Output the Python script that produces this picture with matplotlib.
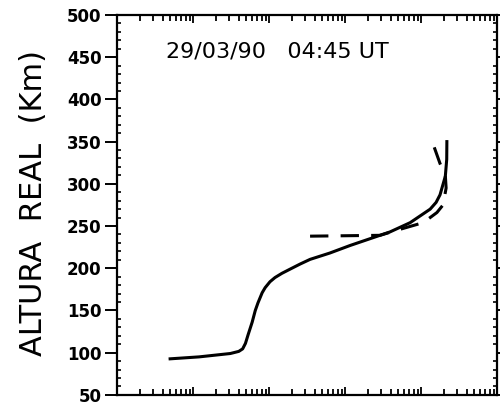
import matplotlib
matplotlib.use('Agg')
import matplotlib.pyplot as plt
from matplotlib.ticker import LogLocator, MultipleLocator, NullFormatter

# Perfil sólido (densidad, altura real en km)
dens_solida = [50, 120, 310, 400, 450, 490, 530, 600, 660, 716, 813, 890,
               1030, 1200, 1480, 1900, 2570, 3470, 6310, 11700, 39000,
               72000, 132000, 158000, 178000, 209000, 218000, 219000]
altura_solida = [92.7, 95, 99, 101.5, 104.5, 111, 121, 136, 150, 159, 171, 177,
                 184, 189, 194, 199, 205, 210.5, 218, 227, 243,
                 254, 270, 278, 287, 309, 329, 350]

# Perfil discontinuo
dens_disc = [3470, 28800, 52500, 97700, 123000, 162000, 195000,
             214000, 209000, 178000, 138000]
altura_disc = [238, 239, 246, 253, 258, 266, 275, 295, 310, 324, 352]

y_ticks = [50, 100, 150, 200, 250, 300, 350, 400, 450, 500]

fig = plt.figure(figsize=(5, 4.05), dpi=100)
ax = fig.add_axes([0.234, 0.025, 0.76, 0.938])

ax.plot(dens_solida, altura_solida, color='black', lw=2.2)
ax.plot(dens_disc, altura_disc, color='black', lw=2.2, dashes=(6, 4))

ax.set_xscale('log')
ax.set_xlim(1e1, 1e6)
ax.set_ylim(50, 500)
ax.set_yticks(y_ticks)
ax.yaxis.set_minor_locator(MultipleLocator(10))
ax.xaxis.set_major_locator(LogLocator(base=10))
ax.xaxis.set_minor_locator(LogLocator(base=10, subs=range(2, 10)))
ax.xaxis.set_major_formatter(NullFormatter())
ax.xaxis.set_minor_formatter(NullFormatter())

for s in ax.spines.values():
    s.set_linewidth(1.6)

ax.tick_params(axis='y', which='major', direction='out', length=9, width=1.4,
               labelsize=12, pad=2)
ax.tick_params(axis='y', which='minor', direction='in', length=3, width=1.2)
ax.tick_params(axis='y', which='both', right=True)
ax.tick_params(axis='x', which='both', top=True, direction='in', width=1.3)
ax.tick_params(axis='x', which='major', length=6)
ax.tick_params(axis='x', which='minor', length=4)
for lab in ax.get_yticklabels():
    lab.set_fontweight('bold')

ax.text(0.13, 0.905, '29/03/90   04:45 UT', transform=ax.transAxes,
        fontsize=16, ha='left', va='center')

fig.text(0.068, 0.50, 'ALTURA  REAL  (Km)', rotation=90, fontsize=22,
         ha='center', va='center')

fig.savefig('out.png', dpi=100)
